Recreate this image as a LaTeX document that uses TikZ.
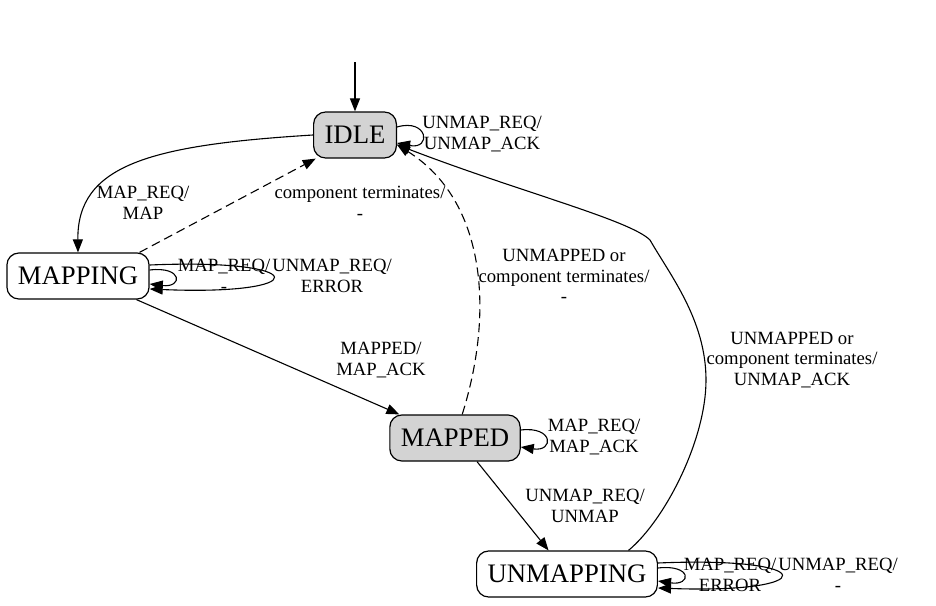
\documentclass[tikz,border=0pt]{standalone}
\usepackage{fontspec}
\setmainfont{Liberation Serif}
\usetikzlibrary{arrows.meta}
\definecolor{activefill}{RGB}{211,211,211}

\begin{document}
\begin{tikzpicture}[>={Triangle[length=13pt,width=10pt]}, x=1pt, y=-1pt]
  % Styles for states, transitions and labels
  \tikzset{
    fsmstate/.style={rectangle, draw=black, fill=white, line width=1.2pt, rounded corners=12pt, minimum height=46pt, inner xsep=11pt, text centered, font=\fontsize{26.7pt}{30pt}\selectfont},
    fsmactive/.style={fsmstate, fill=activefill},
    trans/.style={->, line width=1.1pt},
    quit/.style={->, line width=1.1pt, dash pattern=on 9pt off 5pt},
    lbl/.style={align=center, inner sep=0pt, font=\fontsize{18.7pt}{20.5pt}\selectfont}
  }
  \useasboundingbox (0,0) rectangle (936,605);

  % States
  \node[fsmactive] (idle) at (355,135) {IDLE};
  \node[fsmstate] (mapping) at (78,276) {MAPPING};
  \node[fsmactive] (mapped) at (455,438) {MAPPED};
  \node[fsmstate] (unmapping) at (567,574) {UNMAPPING};
  \coordinate (init) at (355,62);

  % Transitions
  \draw[trans] (init) -- (idle.north);
  \draw[trans] (idle.west) .. controls (150,145) and (77,165) .. (mapping.north);
  \draw[quit] (mapping.21) -- (idle.211);
  \draw[trans] (mapping.-22) -- (mapped.157);
  \draw[quit] (mapped.73) .. controls (495,310) and (485,200) .. (idle.-13);
  \draw[trans] (mapped.-47) -- (unmapping.128);
  \draw[trans] (unmapping.21) .. controls (665,520) and (706,440) .. (706,380)
    .. controls (706,320) and (670,275) .. (650,240)
    .. controls (630,220) and (520,192) .. (idle.-13);

  % Self loops
  \draw[trans] ([yshift=8pt]idle.east) .. controls (428,118) and (432,150) .. ([yshift=-8pt]idle.east);
  \draw[trans] ([yshift=6pt]mapping.east) .. controls (183,266) and (183,288) .. ([yshift=-8pt]mapping.east);
  \draw[trans] ([yshift=11pt]mapping.east) .. controls (314,258) and (314,296) .. ([yshift=-13pt]mapping.east);
  \draw[trans] ([yshift=8pt]mapped.east) .. controls (554,426) and (554,452) .. ([yshift=-9pt]mapped.east);
  \draw[trans] ([yshift=6pt]unmapping.east) .. controls (692,564) and (692,586) .. ([yshift=-7pt]unmapping.east);
  \draw[trans] ([yshift=11pt]unmapping.east) .. controls (822,556) and (822,594) .. ([yshift=-14pt]unmapping.east);

  % Labels
  \node[lbl] (l_idle_loop) at (482,134) {UNMAP\_REQ/\\UNMAP\_ACK};
  \node[lbl] (l_map_req) at (143,203) {MAP\_REQ/\\MAP};
  \node[lbl] (l_term) at (360,203) {component terminates/\\-};
  \node[lbl] (l_mapping_in) at (224,276) {MAP\_REQ/\\-};
  \node[lbl] (l_mapping_out) at (332,276) {UNMAP\_REQ/\\ERROR};
  \node[lbl] (l_unmapped) at (564,276) {UNMAPPED or\\component terminates/\\-};
  \node[lbl] (l_mapped) at (381,360) {MAPPED/\\MAP\_ACK};
  \node[lbl] (l_unmap_ack) at (792,360) {UNMAPPED or\\component terminates/\\UNMAP\_ACK};
  \node[lbl] (l_mapped_loop) at (594,437) {MAP\_REQ/\\MAP\_ACK};
  \node[lbl] (l_unmap_req) at (585,506) {UNMAP\_REQ/\\UNMAP};
  \node[lbl] (l_unmapping_in) at (730,575) {MAP\_REQ/\\ERROR};
  \node[lbl] (l_unmapping_out) at (838,575) {UNMAP\_REQ/\\-};
\end{tikzpicture}
\end{document}
